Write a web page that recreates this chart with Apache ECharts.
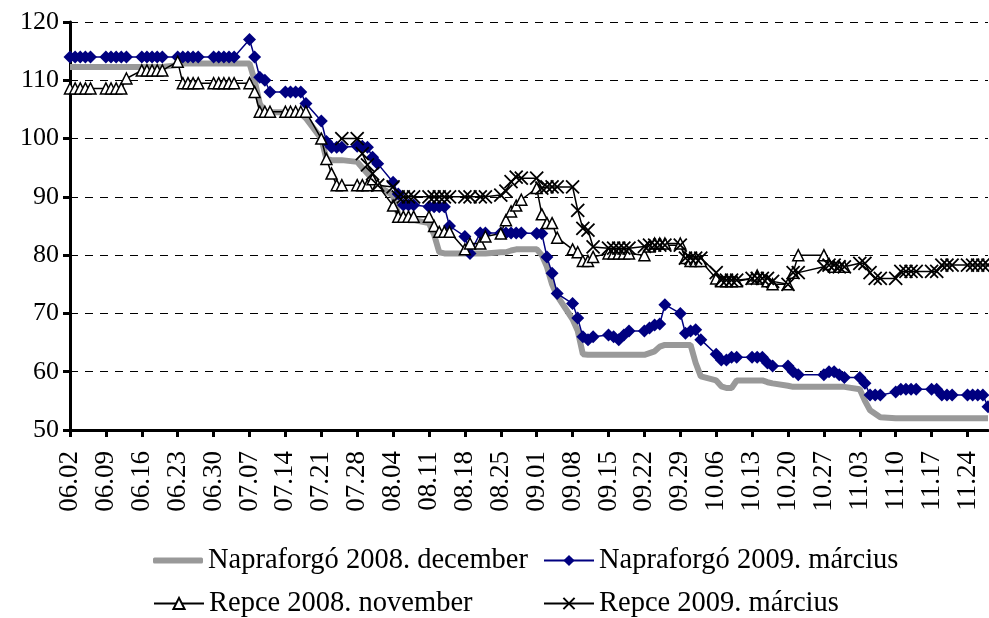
<!DOCTYPE html>
<html>
<head>
<meta charset="utf-8">
<title>Napraforgó és repce jegyzésárak</title>
<script src="https://cdn.jsdelivr.net/npm/echarts@6/dist/echarts.min.js"></script>
<style>
    html, body { margin: 0; padding: 0; background: #fff; }
    #chart { width: 989px; height: 618px; }
</style>
</head>
<body>
<div id="chart"></div>
<script>
// kereskedési napok (2008), hétvégék és ünnepnapok nélkül
var days = [
    '06.02', '06.03', '06.04', '06.05', '06.06',
    '06.09', '06.10', '06.11', '06.12', '06.13',
    '06.16', '06.17', '06.18', '06.19', '06.20',
    '06.23', '06.24', '06.25', '06.26', '06.27',
    '06.30', '07.01', '07.02', '07.03', '07.04',
    '07.07', '07.08', '07.09', '07.10', '07.11',
    '07.14', '07.15', '07.16', '07.17', '07.18',
    '07.21', '07.22', '07.23', '07.24', '07.25',
    '07.28', '07.29', '07.30', '07.31', '08.01',
    '08.04', '08.05', '08.06', '08.07', '08.08',
    '08.11', '08.12', '08.13', '08.14', '08.15',
    '08.18', '08.19', '08.21', '08.22',
    '08.25', '08.26', '08.27', '08.28', '08.29',
    '09.01', '09.02', '09.03', '09.04', '09.05',
    '09.08', '09.09', '09.10', '09.11', '09.12',
    '09.15', '09.16', '09.17', '09.18', '09.19',
    '09.22', '09.23', '09.24', '09.25', '09.26',
    '09.29', '09.30', '10.01', '10.02', '10.03',
    '10.06', '10.07', '10.08', '10.09', '10.10',
    '10.13', '10.14', '10.15', '10.16', '10.17',
    '10.20', '10.21', '10.22',
    '10.27', '10.28', '10.29', '10.30', '10.31',
    '11.03', '11.04', '11.05', '11.06', '11.07',
    '11.10', '11.11', '11.12', '11.13', '11.14',
    '11.17', '11.18', '11.19', '11.20', '11.21',
    '11.24', '11.25', '11.26', '11.27', '11.28'
];

// tengelyfeliratok (hétfők)
var weekLabels = [
    '06.02', '06.09', '06.16', '06.23', '06.30', '07.07', '07.14', '07.21', '07.28',
    '08.04', '08.11', '08.18', '08.25', '09.01', '09.08', '09.15', '09.22', '09.29',
    '10.06', '10.13', '10.20', '10.27', '11.03', '11.10', '11.17', '11.24'
];
var lastDay = '11.28';

var napraforgoDec = [
    112.3, 112.3, 112.3, 112.3, 112.3,
    112.3, 112.3, 112.3, 112.3, 112.3,
    112.3, 112.3, 112.3, 112.3, 112.3,
    112.6, 112.9, 112.9, 112.9, 112.9,
    112.9, 112.9, 112.9, 112.9, 112.9,
    112.9, 110, 106, 104.5, 104.5,
    104.5, 104.5, 104.5, 104.3, 103.5,
    100, 96.5, 96.3, 96.3, 96.3,
    96, 95, 94, 93, 92,
    90.2, 87, 86.5, 86, 86,
    85.5, 83.5, 80.5, 80.3, 80.3,
    80.3, 80.3, 80.3, 80.3,
    80.5, 80.5, 80.8, 81, 81,
    81, 80, 78, 75, 73,
    69, 67, 63, 62.9, 62.9,
    62.9, 62.9, 62.9, 62.9, 62.9,
    62.9, 63.2, 63.5, 64.3, 64.6,
    64.6, 64.6, 64.6, 61.5, 59.2,
    58.5, 57.5, 57.2, 57.2, 58.5,
    58.5, 58.5, 58.5, 58.2, 58,
    57.6, 57.4, 57.4,
    57.4, 57.4, 57.4, 57.4, 57.4,
    57, 55, 53.4, 52.8, 52.2,
    52, 52, 52, 52, 52,
    52, 52, 52, 52, 52,
    52, 52, 52, 52, 52
];

var napraforgoMar = [
    114, 114, 114, 114, 114,
    114, 114, 114, 114, 114,
    114, 114, 114, 114, 114,
    114, 114, 114, 114, 114,
    114, 114, 114, 114, 114,
    117, 114, 110.5, 110, 108,
    108, 108, 108, 108, 106,
    103, 99.5, 98.5, 98.5, 98.5,
    98.7, 98.7, 98.5, 96.8, 95.7,
    92.5, 90.5, 88.6, 88.6, 88.6,
    88.3, 88.3, 88.3, 88.3, 85,
    83.2, 80.3, 83.8, 83.8,
    83.8, 83.8, 83.8, 83.8, 83.8,
    83.7, 83.7, 79.7, 76.9, 73.4,
    71.7, 69.2, 66, 65.5, 66,
    66.3, 66, 65.5, 66.3, 67,
    67, 67.5, 68, 68.2, 71.5,
    70, 66.6, 67, 67.2, 65.5,
    63, 62, 62, 62.5, 62.5,
    62.5, 62.5, 62.5, 61.5, 61,
    61, 60, 59.5,
    59.5, 60, 60, 59.5, 59,
    59, 58, 56, 56, 56,
    56.5, 57, 57, 57, 57,
    57, 57, 56, 56, 56,
    56, 56, 56, 56, 54
];

var repceNov = [
    108.6, 108.6, 108.6, 108.6, 108.6,
    108.6, 108.6, 108.6, 108.6, 110.3,
    111.7, 111.7, 111.7, 111.7, 111.7,
    113.2, 109.5, 109.5, 109.5, 109.5,
    109.5, 109.5, 109.5, 109.5, 109.5,
    109.5, 108, 104.6, 104.6, 104.6,
    104.6, 104.6, 104.6, 104.6, 104.6,
    100, 96.5, 94, 92, 92,
    92, 92, 92, 93, 92,
    88.5, 86.6, 86.6, 86.6, 86.6,
    86.6, 85, 84, 84, 84,
    81, 82, 82, 83.2,
    83.7, 86, 87.5, 88.5, 89.5,
    91.5, 87, 85.5, 85.5, 83,
    81, 80.5, 79, 79, 79.7,
    80.3, 80.3, 80.3, 80.3, 80.3,
    80, 81.5, 82, 82, 82,
    82, 79.5, 79, 79, 79,
    76, 75.5, 75.5, 75.5, 75.5,
    76, 76.5, 76, 75.5, 75,
    75, 77, 80,
    80, 78.5, 78, 78, 78,
    null, null, null, null, null,
    null, null, null, null, null,
    null, null, null, null, null,
    null, null, null, null, null
];

var repceMar = [
    null, null, null, null, null,
    null, null, null, null, null,
    null, null, null, null, null,
    null, null, null, null, null,
    null, null, null, null, null,
    null, null, null, null, null,
    null, null, null, null, null,
    null, null, null, null, 100,
    100, 97.4, 95.5, 94, 92,
    91.7, 90, 90, 90, 90,
    90, 90, 90, 90, 90,
    90, 90, 90, 90,
    90.3, 91, 92.6, 93.4, 93.2,
    93.2, 91.5, 91.7, 91.7, 91.7,
    91.7, 87.7, 84.6, 84.3, 81.4,
    81.2, 81.2, 81.2, 81.2, 81.2,
    81.5, 81.7, 81.7, 81.7, 81.7,
    81.7, 79.5, 79.5, 79.5, 79.5,
    77, 75.7, 75.7, 75.7, 75.7,
    76, 76, 76, 76, 75.5,
    75, 77, 77,
    78, 78.3, 78.3, 78, 78,
    78.6, 78.6, 77, 76, 76,
    76, 77.2, 77.2, 77.2, 77.2,
    77.2, 77.2, 78.3, 78.3, 78.3,
    78.3, 78.3, 78.3, 78.3, 78.3
];

var seriesNames = [
    'Napraforgó 2008. december',
    'Napraforgó 2009. március',
    'Repce 2008. november',
    'Repce 2009. március'
];

var FONT = 'Liberation Serif';
var DAY_MS = 86400000;
var START = Date.UTC(2008, 5, 2);

// naptári nap sorszáma 06.02-tól
function dayIndex(label) {
    var p = label.split('.');
    return Math.round((Date.UTC(2008, +p[0] - 1, +p[1]) - START) / DAY_MS);
}

function pairs(values) {
    return days.map(function (d, i) {
        return [dayIndex(d), values[i]];
    });
}

var tickValues = weekLabels.map(dayIndex);
var labelByDay = {};
weekLabels.forEach(function (l) { labelByDay[dayIndex(l)] = l; });

function legendAt(item, left, top, itemHeight) {
    return {
        data: [item],
        left: left,
        top: top,
        padding: 0,
        itemWidth: 50,
        itemHeight: itemHeight || 14,
        selectedMode: false,
        textStyle: { fontFamily: FONT, fontSize: 28.5, color: '#000' }
    };
}

var myChart = echarts.init(document.getElementById('chart'), null, { renderer: 'canvas' });

myChart.setOption({
    animation: false,
    backgroundColor: '#fff',
    grid: { left: 70, right: 1, top: 22, bottom: 188, containLabel: false },
    legend: [
        legendAt({ name: seriesNames[0], icon: 'roundRect', itemStyle: { color: '#999999' } }, 153, 546, 6),
        legendAt(seriesNames[1], 543, 546),
        legendAt(seriesNames[2], 153, 589),
        legendAt(seriesNames[3], 543, 589)
    ],
    xAxis: {
        type: 'value',
        min: 0,
        max: dayIndex(lastDay),
        interval: 7,
        splitLine: { show: false },
        axisLine: { lineStyle: { color: '#000', width: 3 } },
        axisTick: { show: true, length: 7, customValues: tickValues, lineStyle: { color: '#000', width: 3 } },
        axisLabel: {
            rotate: 90,
            margin: 21,
            customValues: tickValues,
            fontFamily: FONT,
            fontSize: 27,
            color: '#000',
            formatter: function (v) { return labelByDay[v] || ''; }
        }
    },
    yAxis: {
        type: 'value',
        min: 50,
        max: 120,
        interval: 10,
        axisLine: { show: true, lineStyle: { color: '#000', width: 3 } },
        axisTick: { show: true, length: 7, lineStyle: { color: '#000', width: 3 } },
        axisLabel: { margin: 11, fontFamily: FONT, fontSize: 26, color: '#000' },
        splitLine: { lineStyle: { color: '#000', width: 1, type: [8, 7] } }
    },
    series: [
        {
            name: seriesNames[0],
            type: 'line',
            data: pairs(napraforgoDec),
            symbol: 'none',
            lineStyle: { color: '#999999', width: 6 },
            itemStyle: { color: '#999999' }
        },
        {
            name: seriesNames[1],
            type: 'line',
            data: pairs(napraforgoMar),
            symbol: 'diamond',
            symbolSize: 13,
            lineStyle: { color: '#000080', width: 1.5 },
            itemStyle: { color: '#000080' }
        },
        {
            name: seriesNames[2],
            type: 'line',
            data: pairs(repceNov),
            symbol: 'triangle',
            symbolSize: 11,
            lineStyle: { color: '#000', width: 1.5 },
            itemStyle: { color: '#fff', borderColor: '#000', borderWidth: 1.5 }
        },
        {
            name: seriesNames[3],
            type: 'line',
            data: pairs(repceMar),
            symbol: 'path://M0,0L10,10M10,0L0,10',
            symbolSize: 13,
            lineStyle: { color: '#000', width: 1.5 },
            itemStyle: { color: '#000', borderColor: '#000', borderWidth: 1.8 }
        }
    ]
});
</script>
</body>
</html>
